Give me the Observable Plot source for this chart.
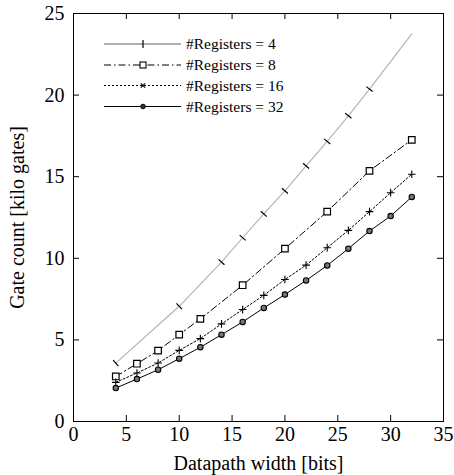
<!DOCTYPE html>
<html>
<head>
<meta charset="utf-8">
<script src="https://cdn.jsdelivr.net/npm/d3@7"></script>
<script src="https://cdn.jsdelivr.net/npm/@observablehq/plot@0.6"></script>
<style>
  html, body { margin: 0; padding: 0; background: #fff; }
  #chart { position: relative; width: 454px; height: 475px; }
  svg { font-family: "Liberation Serif", "Times New Roman", serif; }
</style>
</head>
<body>
<div id="chart"></div>
<script>
// ---- data ----
const bitsReg4 = [4, 10, 14, 16, 18, 20, 22, 24, 26, 28, 32];
const gatesReg4 = [3.58, 7.06, 9.77, 11.26, 12.72, 14.13, 15.66, 17.16, 18.73, 20.37, 23.75];
const markerBitsReg4 = [4, 10, 14, 16, 18, 20, 22, 24, 26, 28];

const bitsReg8 = [4, 6, 8, 10, 12, 16, 20, 24, 28, 32];
const gatesReg8 = [2.76, 3.54, 4.34, 5.32, 6.29, 8.35, 10.59, 12.86, 15.36, 17.26];

const bitsReg16 = [4, 6, 8, 10, 12, 14, 16, 18, 20, 22, 24, 26, 28, 30, 32];
const gatesReg16 = [2.40, 2.97, 3.58, 4.36, 5.08, 5.98, 6.86, 7.73, 8.70, 9.58, 10.65, 11.71, 12.86, 14.02, 15.15];

const bitsReg32 = [4, 6, 8, 10, 12, 14, 16, 18, 20, 22, 24, 26, 28, 30, 32];
const gatesReg32 = [2.05, 2.60, 3.17, 3.85, 4.55, 5.32, 6.10, 6.96, 7.78, 8.64, 9.56, 10.59, 11.67, 12.59, 13.76];

const seriesNames = ["#Registers = 4", "#Registers = 8", "#Registers = 16", "#Registers = 32"];
const xTicks = [0, 5, 10, 15, 20, 25, 30, 35];
const yTicks = [0, 5, 10, 15, 20, 25];
const xLabel = "Datapath width [bits]";
const yLabel = "Gate count [kilo gates]";

// ---- layout ----
const W = 454, H = 475;
const mL = 73, mR = 11, mT = 13, mB = 54;
const pw = W - mL - mR, ph = H - mT - mB;
const kx = pw / 35, ky = ph / 25;
const FONT = '"Liberation Serif", "Times New Roman", serif';

const toRows = (xs, ys) => xs.map((x, i) => ({x, y: ys[i]}));
const r4 = toRows(bitsReg4, gatesReg4);
const r8 = toRows(bitsReg8, gatesReg8);
const r16 = toRows(bitsReg16, gatesReg16);
const r32 = toRows(bitsReg32, gatesReg32);

// rotation of the reg-4 tick markers: perpendicular to the curve on screen
function angleAt(rows, i) {
  const a = rows[Math.max(0, i - 1)], b = rows[Math.min(rows.length - 1, i + 1)];
  return Math.atan(-(b.y - a.y) * ky / ((b.x - a.x) * kx)) * 180 / Math.PI;
}
const r4marks = r4.map((d, i) => ({...d, rot: angleAt(r4, i)})).filter(d => markerBitsReg4.includes(d.x));

const tickSymbol = {
  draw(ctx, size) {
    const r = Math.sqrt(size / Math.PI);
    ctx.moveTo(0, -r); ctx.lineTo(0, r);
  }
};

const plot = Plot.plot({
  width: W, height: H,
  marginLeft: mL, marginRight: mR, marginTop: mT, marginBottom: mB,
  style: {fontFamily: FONT, fontSize: "20px", color: "black", background: "white"},
  x: {domain: [0, 35]},
  y: {domain: [0, 25]},
  marks: [
    Plot.frame({stroke: "black", strokeWidth: 1}),
    // inward ticks on all four sides
    Plot.tickX(xTicks, {x: d => d, insetTop: ph - 6, stroke: "black"}),
    Plot.tickX(xTicks, {x: d => d, insetBottom: ph - 6, stroke: "black"}),
    Plot.tickY(yTicks, {y: d => d, insetRight: pw - 6, stroke: "black"}),
    Plot.tickY(yTicks, {y: d => d, insetLeft: pw - 6, stroke: "black"}),
    Plot.axisX({ticks: xTicks, tickSize: 0, tickPadding: 5, fontSize: 20, label: null}),
    Plot.axisY({ticks: yTicks, tickSize: 0, tickPadding: 9, fontSize: 20, label: null}),
    Plot.axisX({ticks: [], tickSize: 0, fontSize: 20, label: xLabel, labelAnchor: "center", labelArrow: "none", labelOffset: 48}),
    Plot.axisY({ticks: [], tickSize: 0, fontSize: 20, label: yLabel, labelAnchor: "center", labelArrow: "none", labelOffset: 64}),
    // series lines
    Plot.line(r4, {x: "x", y: "y", stroke: "#b0b0b0", strokeWidth: 1.1}),
    Plot.line(r8, {x: "x", y: "y", stroke: "black", strokeWidth: 1, strokeDasharray: "7,3,1.5,3"}),
    Plot.line(r16, {x: "x", y: "y", stroke: "black", strokeWidth: 1, strokeDasharray: "2,2"}),
    Plot.line(r32, {x: "x", y: "y", stroke: "black", strokeWidth: 1}),
    // markers
    Plot.dot(r4marks, {x: "x", y: "y", rotate: "rot", symbol: tickSymbol, r: 4, stroke: "black", strokeWidth: 1.2, fill: "none"}),
    Plot.dot(r8, {x: "x", y: "y", symbol: "square", r: 3.7, stroke: "black", strokeWidth: 1.2, fill: "white"}),
    Plot.dot(r16, {x: "x", y: "y", symbol: "plus", r: 2.6, stroke: "black", strokeWidth: 1.1, fill: "none"}),
    Plot.dot(r32, {x: "x", y: "y", symbol: "circle", r: 2.7, stroke: "black", strokeWidth: 1.1, fill: "#777"})
  ]
});

document.getElementById("chart").appendChild(plot);

// ---- legend (inside the plot, top-left) ----
const svg = d3.select(plot);
const lg = svg.append("g").attr("font-family", FONT).attr("font-size", 15.5).attr("text-anchor", "start");
const rowsY = [44, 65, 85.5, 106.5];
const lx0 = 104, lx1 = 181, lmx = 143, ltx = 186;
const legendStyles = [
  {stroke: "#b0b0b0", dash: null, width: 1.8},
  {stroke: "black", dash: "7,3,1.5,3", width: 1},
  {stroke: "black", dash: "2,2", width: 1},
  {stroke: "black", dash: null, width: 1}
];
seriesNames.forEach((name, i) => {
  const y = rowsY[i], s = legendStyles[i];
  const ln = lg.append("line").attr("x1", lx0).attr("x2", lx1).attr("y1", y).attr("y2", y)
    .attr("stroke", s.stroke).attr("stroke-width", s.width);
  if (s.dash) ln.attr("stroke-dasharray", s.dash);
  if (i === 0) {
    lg.append("line").attr("x1", lmx).attr("x2", lmx).attr("y1", y - 4).attr("y2", y + 4).attr("stroke", "black").attr("stroke-width", 1.2);
  } else if (i === 1) {
    lg.append("rect").attr("x", lmx - 3).attr("y", y - 3).attr("width", 6).attr("height", 6).attr("fill", "white").attr("stroke", "black").attr("stroke-width", 1.1);
  } else if (i === 2) {
    lg.append("path").attr("d", `M${lmx-2.2},${y-2.2}L${lmx+2.2},${y+2.2}M${lmx-2.2},${y+2.2}L${lmx+2.2},${y-2.2}`).attr("stroke", "black").attr("stroke-width", 1.1);
  } else {
    lg.append("circle").attr("cx", lmx).attr("cy", y).attr("r", 2.3).attr("fill", "#333").attr("stroke", "black");
  }
  lg.append("text").attr("x", ltx).attr("y", y).attr("dy", "0.35em").attr("fill", "black").text(name);
});
</script>
</body>
</html>
